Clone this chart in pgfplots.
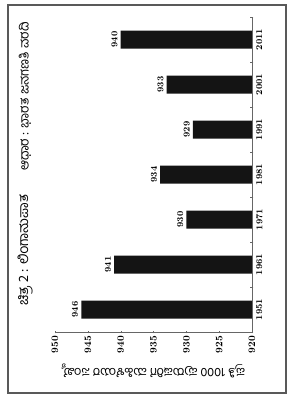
\documentclass[border=0pt]{standalone}
\usepackage{pgfplots}
\pgfplotsset{compat=1.18}
\usepackage{fontspec}
\newfontfamily\kn[Script=Kannada]{Hind Mysuru}
\begin{document}
\begin{tikzpicture}[x=1bp,y=1bp]
\useasboundingbox (0,0) rectangle (291,399);
\draw[black!65, line width=1.3bp] (8,6) rectangle (286,394);
\begin{axis}[
  at={(55bp,67bp)}, anchor=south west,
  width=197bp, height=315bp, scale only axis,
  xbar, bar width=18bp,
  xmin=920, xmax=950, x dir=reverse,
  ymin=-0.5, ymax=6.5,
  xtick={920,925,...,950},
  ytick={0,...,6},
  yticklabels={1951,1961,1971,1981,1991,2001,2011},
  minor ytick={-0.5,0.5,...,6.5},
  axis x line*=bottom, axis y line*=right,
  axis line style={black!60, line width=0.6bp, -},
  major y tick style={draw=none},
  minor y tick style={black!60},
  x tick style={black!60},
  tick align=center,
  major tick length=3bp, minor tick length=3bp,
  /pgf/number format/assume math mode=true,
  xticklabel style={rotate=90, anchor=east, font=\fontsize{10}{12}\selectfont\bfseries, inner sep=2.5bp},
  yticklabel style={rotate=90, anchor=north, font=\fontsize{9}{11}\selectfont\bfseries, inner sep=2.5bp},
  xlabel={\kn ಪ್ರತಿ 1000 ಪುರುಷರಿಗೆ ಮಹಿಳೆಯರ ಸಂಖ್ಯೆ},
  xlabel style={at={(axis description cs:0.5,-0.124)}, anchor=center, rotate=180, font=\fontsize{12.5}{14}\selectfont},
  nodes near coords,
  every node near coord/.append style={rotate=90, anchor=south, font=\fontsize{9}{11}\selectfont\bfseries, inner sep=3bp},
  clip=true,
]
\addplot[fill=black!92, draw=none] coordinates {(946,0) (941,1) (930,2) (934,3) (929,4) (933,5) (940,6)};
\end{axis}
\node[rotate=90, anchor=west, font=\fontsize{14}{16}\selectfont\kn, inner sep=0pt] at (25,93) {ಚಿತ್ರ 2 : ಲಿಂಗಾನುಪಾತ};
\node[rotate=90, anchor=west, font=\fontsize{13}{15}\selectfont\kn, inner sep=0pt] at (25,228) {ಆಧಾರ : ಭಾರತ ಜನಗಣತಿ ವರದಿ};
\end{tikzpicture}
\end{document}
